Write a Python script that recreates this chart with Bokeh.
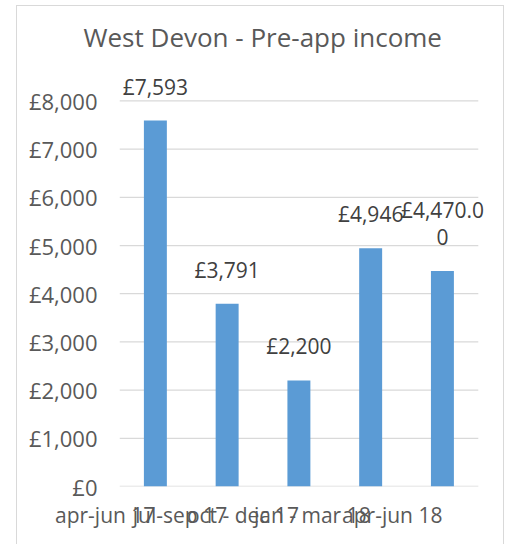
from bokeh.plotting import figure
from bokeh.models import FixedTicker, ColumnDataSource, Range1d, LabelSet
from bokeh.core.properties import value
from bokeh.embed import file_html
from bokeh.resources import INLINE

categories = ["apr-jun 17", "jul-sep 17", "oct - dec 17", "jan - mar 18", "apr-jun 18"]
income = [7593, 3791, 2200, 4946, 4470.00]
label_line1 = ["£7,593", "£3,791", "£2,200", "£4,946", "£4,470.0"]
label_line2 = ["", "", "", "", "0"]
y_ticks = [0, 1000, 2000, 3000, 4000, 5000, 6000, 7000, 8000]
y_tick_labels = ["£0", "£1,000", "£2,000", "£3,000", "£4,000", "£5,000", "£6,000", "£7,000", "£8,000"]

FONT = "Open Sans"
TXT = "#595959"
GRID = "#d9d9d9"
BAR = "#5b9bd5"

n = len(categories)
xpos = list(range(n))
line_gap = 27
offsets1 = [26 + (line_gap if l2 else 0) for l2 in label_line2]
offsets2 = [26 for _ in label_line2]

src = ColumnDataSource(dict(x=xpos, val=income, l1=label_line1, l2=label_line2,
                            o1=offsets1, o2=offsets2))

# extra room on the right so the last data label is not clipped
p = figure(x_range=Range1d(-0.5, n - 0.5 + 0.17), y_range=Range1d(0, 8860), width=488, height=539,
           output_backend="svg", toolbar_location=None,
           min_border_left=102, min_border_right=15, min_border_top=53, min_border_bottom=58)

# horizontal gridlines (incl. the zero baseline) spanning the category area only
p.segment(x0=[-0.5] * len(y_ticks), x1=[n - 0.5] * len(y_ticks), y0=y_ticks, y1=y_ticks,
          line_color=GRID, line_width=1.3)

p.vbar(x="x", top="val", width=0.32, source=src, fill_color=BAR, line_color=None)

for col, off in (("l1", "o1"), ("l2", "o2")):
    ls = LabelSet(x="x", y="val", text=col, source=src, y_offset=off, text_align="center",
                  text_baseline="alphabetic", text_font=value(FONT), text_font_size=value("21px"),
                  text_color=value("#404040"))
    p.add_layout(ls)

p.title.text = "West Devon - Pre-app income"
p.title.text_font = FONT
p.title.text_font_size = "26px"
p.title.text_font_style = "normal"
p.title.text_color = TXT
p.title.align = "left"
p.title.offset = -36
p.title.standoff = 10

for ax in (p.xaxis, p.yaxis):
    ax.axis_line_color = None
    ax.major_tick_line_color = None
    ax.minor_tick_line_color = None
    ax.major_tick_out = 0
    ax.major_tick_in = 0
    ax.minor_tick_out = 0
    ax.minor_tick_in = 0
    ax.major_label_text_font = FONT
    ax.major_label_text_color = TXT

p.yaxis.ticker = FixedTicker(ticks=y_ticks)
p.yaxis.major_label_overrides = {t: l for t, l in zip(y_ticks, y_tick_labels)}
p.yaxis.major_label_standoff = 22
p.yaxis.major_label_text_font_size = "22px"

p.xaxis.ticker = FixedTicker(ticks=xpos)
p.xaxis.major_label_overrides = {i: c for i, c in zip(xpos, categories)}
p.xaxis.major_label_standoff = 28
p.xaxis.major_label_text_font_size = "21px"
p.xaxis.major_label_orientation = 0

p.xgrid.grid_line_color = None
p.ygrid.grid_line_color = None
p.outline_line_color = None

p.styles = {"margin-left": "16px", "margin-top": "5px",
            "border-left": "1.5px solid #d9d9d9", "border-right": "1.5px solid #d9d9d9",
            "border-top": "1.5px solid #d9d9d9"}

open("out.html", "w").write(file_html(p, INLINE))
